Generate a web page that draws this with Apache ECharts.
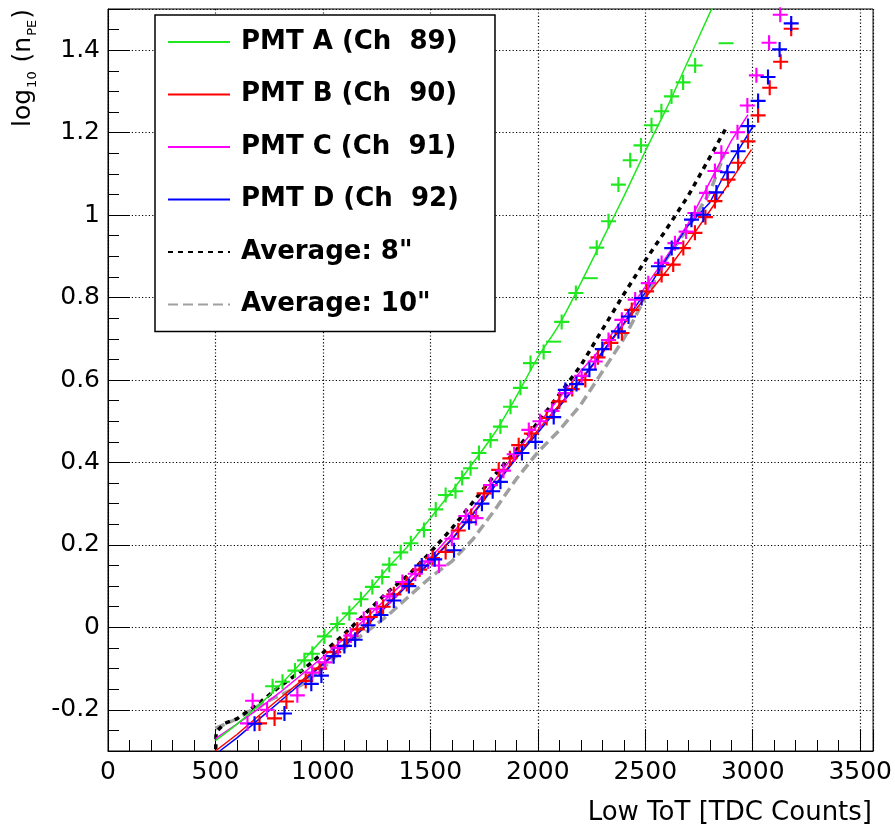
<!DOCTYPE html>
<html><head><meta charset="utf-8">
<script src="https://cdn.jsdelivr.net/npm/echarts@6/dist/echarts.min.js"></script>
<style>html,body{margin:0;padding:0;background:#fff}#c{width:895px;height:834px}</style>
</head><body><div id="c"></div>
<script>
const seriesNames = ['PMT A (Ch  89)', 'PMT B (Ch  90)', 'PMT C (Ch  91)', 'PMT D (Ch  92)', 'Average: 8"', 'Average: 10"'];
const xTickValues = [0, 500, 1000, 1500, 2000, 2500, 3000, 3500];
const xTickLabels = ['0', '500', '1000', '1500', '2000', '2500', '3000', '3500'];
const yTickValues = [-0.2, 0, 0.2, 0.4, 0.6, 0.8, 1, 1.2, 1.4];
const yTickLabels = ['-0.2', '0', '0.2', '0.4', '0.6', '0.8', '1', '1.2', '1.4'];
const xRange = [0, 3560];
const yRange = [-0.3, 1.5];
const xTitle = 'Low ToT [TDC Counts]';

// fitted / averaged curves
const pmtAFit = [[500,-0.275],[600,-0.235],[700,-0.19],[800,-0.14],[900,-0.085],[1000,-0.028],[1100,0.025],[1200,0.08],[1300,0.143],[1400,0.2],[1500,0.265],[1600,0.33],[1700,0.4],[1800,0.472],[1900,0.56],[2000,0.655],[2100,0.735],[2200,0.835],[2300,0.94],[2400,1.045],[2500,1.155],[2600,1.26],[2700,1.375],[2800,1.49],[2900,1.6]];
const pmtBFit = [[500,-0.30],[600,-0.26],[700,-0.215],[800,-0.172],[900,-0.13],[1000,-0.087],[1100,-0.04],[1200,0.008],[1300,0.058],[1400,0.108],[1500,0.16],[1600,0.215],[1700,0.278],[1800,0.345],[1900,0.415],[2000,0.478],[2100,0.54],[2200,0.598],[2300,0.665],[2400,0.735],[2500,0.8],[2600,0.865],[2700,0.935],[2800,1.01],[2900,1.085],[2994,1.159]];
const pmtCFit = [[500,-0.27],[600,-0.235],[700,-0.198],[800,-0.158],[900,-0.115],[1000,-0.072],[1100,-0.027],[1200,0.022],[1300,0.072],[1400,0.12],[1500,0.168],[1600,0.226],[1700,0.29],[1800,0.357],[1900,0.425],[2000,0.492],[2100,0.556],[2200,0.622],[2300,0.68],[2400,0.752],[2500,0.826],[2600,0.9],[2700,0.98],[2800,1.08],[2900,1.18],[2978,1.244]];
const pmtDFit = [[520,-0.30],[600,-0.268],[700,-0.224],[800,-0.18],[900,-0.135],[1000,-0.09],[1100,-0.045],[1200,0.003],[1300,0.053],[1400,0.105],[1500,0.158],[1600,0.213],[1700,0.275],[1800,0.343],[1900,0.41],[2000,0.472],[2100,0.535],[2200,0.6],[2300,0.668],[2400,0.738],[2500,0.812],[2600,0.895],[2700,0.975],[2800,1.03],[2900,1.13],[3001,1.215]];
const avg8 = [[500,-0.32],[503,-0.254],[543,-0.233],[600,-0.222],[700,-0.185],[800,-0.143],[900,-0.106],[1000,-0.062],[1100,-0.016],[1200,0.035],[1300,0.085],[1400,0.128],[1500,0.182],[1600,0.24],[1700,0.305],[1800,0.37],[1900,0.43],[2000,0.497],[2100,0.565],[2200,0.635],[2300,0.722],[2400,0.808],[2500,0.89],[2600,0.967],[2700,1.047],[2800,1.14],[2882,1.217]];
const avg10 = [[500,-0.245],[600,-0.222],[700,-0.19],[800,-0.165],[900,-0.14],[1000,-0.1],[1100,-0.05],[1200,-0.012],[1300,0.028],[1400,0.075],[1500,0.121],[1600,0.16],[1700,0.215],[1800,0.285],[1900,0.36],[2000,0.425],[2100,0.478],[2200,0.54],[2300,0.62],[2400,0.7],[2500,0.8],[2600,0.895],[2700,0.97],[2800,1.055],[2870,1.151]];

// measured points (crosses)
const pmtAPoints = [[766,-0.143],[812,-0.132],[870,-0.105],[914,-0.08],[951,-0.064],[1007,-0.022],[1067,0.008],[1123,0.034],[1177,0.068],[1230,0.098],[1276,0.122],[1309,0.152],[1362,0.182],[1409,0.204],[1470,0.236],[1525,0.286],[1571,0.321],[1617,0.33],[1648,0.362],[1687,0.386],[1726,0.423],[1780,0.454],[1826,0.487],[1873,0.535],[1919,0.581],[1966,0.641],[2027,0.668],[2111,0.741],[2177,0.811],[2274,0.921],[2329,0.985],[2375,1.074],[2430,1.133],[2480,1.169],[2529,1.218],[2575,1.252],[2622,1.288],[2676,1.322],[2732,1.363]];
const pmtADashPoints = [[2073,0.693],[2244,0.847],[2876,1.417]];
const pmtBPoints = [[705,-0.233],[775,-0.221],[830,-0.18],[920,-0.13],[985,-0.1],[1050,-0.06],[1110,-0.03],[1160,-0.005],[1220,0.025],[1280,0.05],[1330,0.08],[1390,0.105],[1450,0.14],[1510,0.168],[1571,0.183],[1630,0.235],[1690,0.27],[1750,0.325],[1818,0.382],[1870,0.41],[1911,0.442],[1970,0.47],[2041,0.508],[2100,0.548],[2160,0.578],[2221,0.6],[2280,0.655],[2340,0.69],[2391,0.714],[2437,0.77],[2506,0.815],[2576,0.855],[2630,0.88],[2677,0.92],[2731,0.957],[2780,0.995],[2824,1.034],[2885,1.086],[2932,1.127],[2978,1.179],[3025,1.242],[3079,1.309],[3130,1.372],[3179,1.452]];
const pmtCPoints = [[649,-0.233],[673,-0.178],[740,-0.2],[881,-0.165],[950,-0.11],[1010,-0.085],[1070,-0.05],[1130,-0.02],[1190,0.02],[1250,0.045],[1310,0.075],[1370,0.11],[1430,0.13],[1490,0.16],[1540,0.15],[1600,0.215],[1665,0.27],[1712,0.265],[1780,0.345],[1840,0.38],[1890,0.42],[1958,0.479],[2010,0.5],[2066,0.525],[2128,0.568],[2204,0.61],[2267,0.645],[2329,0.697],[2391,0.746],[2453,0.795],[2514,0.835],[2576,0.884],[2638,0.932],[2690,0.96],[2731,1.005],[2785,1.054],[2824,1.107],[2854,1.151],[2929,1.201],[2975,1.266],[3017,1.339],[3076,1.418],[3128,1.486]];
const pmtDPoints = [[682,-0.234],[821,-0.209],[946,-0.137],[993,-0.117],[1050,-0.07],[1100,-0.045],[1150,-0.03],[1210,0.005],[1270,0.03],[1330,0.065],[1400,0.1],[1460,0.15],[1520,0.165],[1610,0.187],[1680,0.255],[1740,0.3],[1790,0.33],[1826,0.353],[1926,0.423],[1989,0.45],[2074,0.51],[2128,0.576],[2180,0.59],[2240,0.625],[2300,0.675],[2375,0.718],[2422,0.754],[2483,0.799],[2561,0.876],[2623,0.92],[2715,0.989],[2770,1.001],[2831,1.055],[2882,1.104],[2932,1.155],[2978,1.216],[3025,1.277],[3071,1.335],[3125,1.402],[3179,1.465]];

const colors = { A: '#1fe81f', B: '#ff0000', C: '#ff00ff', D: '#0000ff', avg8: '#000000', avg10: '#a0a0a0' };
const FONT = 'DejaVu Sans';
const PLUS = 'path://M0,6H14V8H0Z M6,0H8V14H6Z';

function labelFrom(values, labels) {
  return function (v) {
    for (let i = 0; i < values.length; i++) if (Math.abs(values[i] - v) < 1e-6) return labels[i];
    return '';
  };
}
function lineSeries(name, data, color, width, type, z, smooth) {
  return { name, type: 'line', data, symbol: 'circle', showSymbol: false, smooth: smooth || false,
    lineStyle: { color, width, type: type || 'solid' }, itemStyle: { color }, z: z || 2, silent: true };
}
function pointSeries(name, data, color, sym, size, z) {
  return { name, type: 'scatter', data, symbol: sym, symbolSize: size,
    itemStyle: { color, opacity: 1 }, z: z || 3, silent: true };
}

const chart = echarts.init(document.getElementById('c'), null, { renderer: 'canvas' });
chart.setOption({
  animation: false,
  backgroundColor: '#fff',
  grid: { left: 108, top: 9, right: 20, bottom: 83, show: true, borderColor: '#000', borderWidth: 1, backgroundColor: '#fff' },
  xAxis: [
    { type: 'value', min: xRange[0], max: xRange[1], interval: 500,
      axisLine: { show: true, onZero: false, lineStyle: { color: '#000', width: 1 } },
      axisTick: { show: true, inside: true, length: 22, lineStyle: { color: '#000', width: 1 } },
      axisLabel: { show: true, margin: 9, color: '#000', fontSize: 25, fontFamily: FONT, formatter: labelFrom(xTickValues, xTickLabels) },
      splitLine: { show: true, lineStyle: { color: '#000', width: 1.2, type: [1.2, 2.2] } } },
    { type: 'value', min: xRange[0], max: xRange[1], interval: 100, position: 'bottom',
      axisLine: { show: false, onZero: false }, axisLabel: { show: false }, splitLine: { show: false },
      axisTick: { show: true, inside: true, length: 11, lineStyle: { color: '#000', width: 1 } } }
  ],
  yAxis: [
    { type: 'value', min: yRange[0], max: yRange[1], splitNumber: 9,
      axisLine: { show: true, onZero: false, lineStyle: { color: '#000', width: 1 } },
      axisTick: { show: true, inside: true, length: 22, lineStyle: { color: '#000', width: 1 } },
      axisLabel: { show: true, margin: 8, color: '#000', fontSize: 25, fontFamily: FONT, formatter: labelFrom(yTickValues, yTickLabels) },
      splitLine: { show: true, lineStyle: { color: '#000', width: 1.2, type: [1.2, 2.2] } } },
    { type: 'value', min: yRange[0], max: yRange[1], interval: 0.05, position: 'left',
      axisLine: { show: false, onZero: false }, axisLabel: { show: false }, splitLine: { show: false },
      axisTick: { show: true, inside: true, length: 11, lineStyle: { color: '#000', width: 1 } } }
  ],
  legend: {
    orient: 'vertical', left: 155, top: 15, padding: [14, 36, 14, 12], itemGap: 26.5,
    itemWidth: 62, itemHeight: 14, selectedMode: false,
    backgroundColor: '#fff', borderColor: '#000', borderWidth: 1.5,
    itemStyle: { color: 'rgba(0,0,0,0)', borderColor: 'rgba(0,0,0,0)', borderWidth: 0 },
    textStyle: { color: '#000', fontFamily: FONT, fontWeight: 'bold', fontSize: 26, lineHeight: 26, padding: [0, 0, 0, 6] },
    data: seriesNames
  },
  graphic: [
    { type: 'text', right: 895 - 872, top: 800, style: { text: xTitle, font: '26px "DejaVu Sans"', fill: '#000' } },
    { type: 'text', x: 25, y: 68, rotation: Math.PI / 2,
      style: { text: '{n|log}{s|10}{n| (n}{s|PE}{n|)}', align: 'center', verticalAlign: 'middle',
        rich: {
          n: { fontFamily: FONT, fontSize: 25, lineHeight: 28, verticalAlign: 'top', fill: '#000' },
          s: { fontFamily: FONT, fontSize: 13, lineHeight: 14, padding: [18, 1, 0, 1], verticalAlign: 'bottom', fill: '#000' }
        } } }
  ],
  series: [
    lineSeries(seriesNames[5], avg10, colors.avg10, 3.5, [10, 5], 2),
    lineSeries(seriesNames[4], avg8, colors.avg8, 3.5, [5, 5], 2),
    lineSeries(seriesNames[1], pmtBFit, colors.B, 1.5, 'solid', 3),
    pointSeries('PMT B points', pmtBPoints, colors.B, PLUS, 15, 3),
    lineSeries(seriesNames[2], pmtCFit, colors.C, 1.5, 'solid', 3),
    pointSeries('PMT C points', pmtCPoints, colors.C, PLUS, 15, 3),
    lineSeries(seriesNames[3], pmtDFit, colors.D, 1.5, 'solid', 3),
    pointSeries('PMT D points', pmtDPoints, colors.D, PLUS, 15, 3),
    lineSeries(seriesNames[0], pmtAFit, colors.A, 1.5, 'solid', 3, 0.3),
    pointSeries('PMT A points', pmtAPoints, colors.A, PLUS, 15, 3),
    pointSeries('PMT A flat points', pmtADashPoints, colors.A, 'rect', [15, 2], 3)
  ]
});
</script></body></html>
